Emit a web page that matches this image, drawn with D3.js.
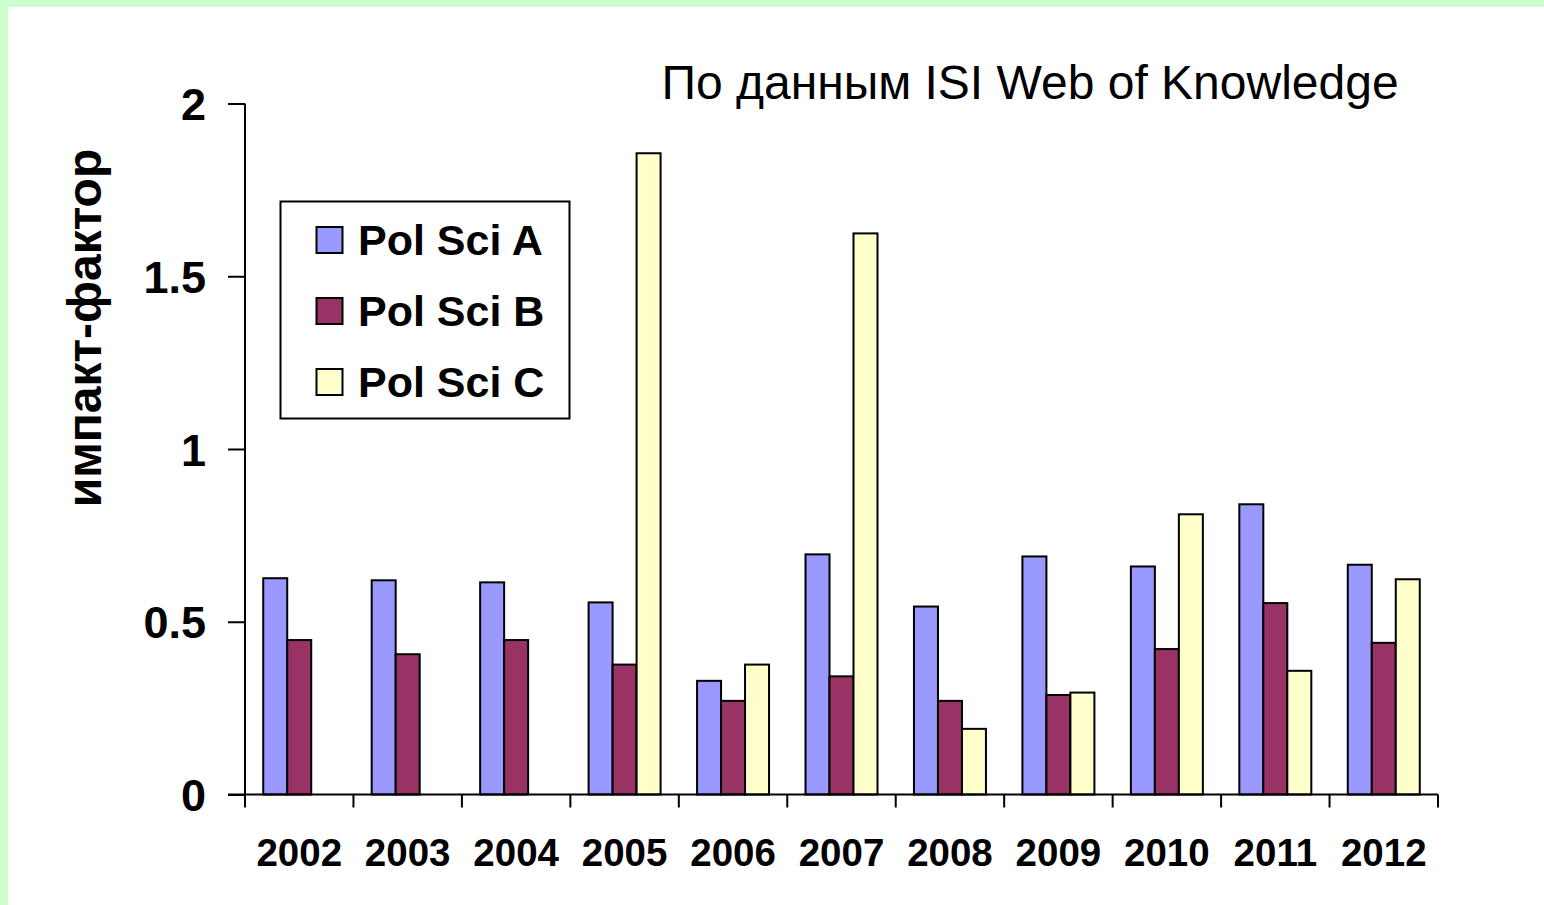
<!DOCTYPE html>
<html>
<head>
<meta charset="utf-8">
<script src="https://cdn.jsdelivr.net/npm/d3@7"></script>
<style>
  html, body { margin: 0; padding: 0; background: #fff; }
  svg { display: block; }
</style>
</head>
<body>
<svg id="chart" width="1544" height="905"></svg>
<script>
const years = ["2002","2003","2004","2005","2006","2007","2008","2009","2010","2011","2012"];
const seriesNames = ["Pol Sci A", "Pol Sci B", "Pol Sci C"];
const polSciA = [0.626, 0.620, 0.614, 0.556, 0.329, 0.695, 0.544, 0.689, 0.660, 0.840, 0.665];
const polSciB = [0.447, 0.406, 0.447, 0.376, 0.271, 0.342, 0.271, 0.288, 0.421, 0.554, 0.439];
const polSciC = [null, null, null, 1.856, 0.376, 1.624, 0.190, 0.295, 0.811, 0.358, 0.623];
const yTicks = [0, 0.5, 1, 1.5, 2];
const colors = ["#9999ff", "#993366", "#ffffcc"];
const titleText = "По данным ISI Web of Knowledge";
const yTitle = "импакт-фактор";

const svg = d3.select("#chart");
const W = 1544, H = 905;

// background frame
svg.append("rect").attr("x", 0).attr("y", 0).attr("width", W).attr("height", H).attr("fill", "#ccffcc");
svg.append("rect").attr("x", 8).attr("y", 7).attr("width", W - 8).attr("height", H - 7).attr("fill", "#ffffff");

const plot = { left: 245, right: 1438, top: 103.5, bottom: 794.5 };

const x0 = d3.scaleBand().domain(years).range([plot.left, plot.right]).paddingInner(0).paddingOuter(0);
const x1 = d3.scaleBand().domain(seriesNames).range([0, x0.bandwidth()]).paddingInner(0).paddingOuter(0.76);
const y = d3.scaleLinear().domain([0, 2]).range([plot.bottom, plot.top]);

const allSeries = [polSciA, polSciB, polSciC];
const data = years.map((yr, i) => ({ year: yr, vals: seriesNames.map((s, j) => ({ name: s, idx: j, v: allSeries[j][i] })) }));

const font = "'Liberation Sans', Arial, sans-serif";

// bars
const g = svg.append("g");
g.selectAll("g.cat").data(data).enter().append("g")
  .attr("transform", d => `translate(${x0(d.year)},0)`)
  .selectAll("rect").data(d => d.vals.filter(v => v.v != null)).enter().append("rect")
  .attr("x", d => x1(d.name))
  .attr("y", d => y(d.v))
  .attr("width", x1.bandwidth())
  .attr("height", d => y(0) - y(d.v))
  .attr("fill", d => colors[d.idx])
  .attr("stroke", "#000")
  .attr("stroke-width", 2);

// y axis
const yAxis = d3.axisLeft(y).tickValues(yTicks).tickSize(17).tickPadding(22).tickFormat(d3.format("~g"));
const ya = svg.append("g").attr("transform", `translate(${plot.left},0)`).call(yAxis);
ya.select(".domain").attr("stroke", "#000").attr("stroke-width", 2).attr("d", `M0,${plot.top}V${plot.bottom}`);
ya.selectAll(".tick line").attr("stroke", "#000").attr("stroke-width", 2);
ya.selectAll(".tick text").attr("font-family", font).attr("font-weight", "bold").attr("font-size", 45).attr("fill", "#000").attr("dy", "0.36em");

// x axis
const xAxis = d3.axisBottom(x0).tickSize(0).tickPadding(44);
const xa = svg.append("g").attr("transform", `translate(0,${plot.bottom})`).call(xAxis);
xa.select(".domain").attr("stroke", "#000").attr("stroke-width", 2).attr("d", `M${plot.left - 17},0H${plot.right}`);
xa.selectAll(".tick text").attr("font-family", font).attr("font-weight", "bold").attr("font-size", 38.5).attr("fill", "#000");
// category boundary ticks
const boundaries = years.map(yr => x0(yr)).concat([x0(years[years.length - 1]) + x0.bandwidth()]);
xa.selectAll("line.bound").data(boundaries).enter().append("line")
  .attr("class", "bound")
  .attr("x1", d => d).attr("x2", d => d).attr("y1", 0).attr("y2", 13)
  .attr("stroke", "#000").attr("stroke-width", 2);

// title
svg.append("text").attr("x", 1030).attr("y", 99).attr("text-anchor", "middle")
  .attr("font-family", font).attr("font-size", 48).attr("fill", "#000")
  .text(titleText);

// y title
svg.append("text").attr("transform", "translate(101,328) rotate(-90)").attr("text-anchor", "middle")
  .attr("font-family", font).attr("font-weight", "bold").attr("font-size", 48).attr("fill", "#000")
  .text(yTitle);

// legend
const lg = svg.append("g");
lg.append("rect").attr("x", 280.5).attr("y", 201.5).attr("width", 289).attr("height", 217)
  .attr("fill", "#fff").attr("stroke", "#000").attr("stroke-width", 2);
const rowY = [240, 311, 382];
seriesNames.forEach((s, i) => {
  lg.append("rect").attr("x", 316.5).attr("y", rowY[i] - 13).attr("width", 26).attr("height", 26)
    .attr("fill", colors[i]).attr("stroke", "#000").attr("stroke-width", 2);
  lg.append("text").attr("x", 358).attr("y", rowY[i] + 15)
    .attr("font-family", font).attr("font-weight", "bold").attr("font-size", 43).attr("fill", "#000")
    .text(s);
});
</script>
</body>
</html>
